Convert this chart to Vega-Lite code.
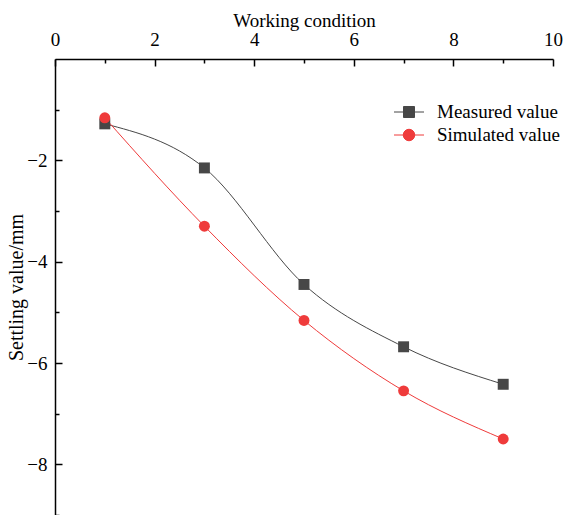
{
  "$schema": "https://vega.github.io/schema/vega-lite/v6.json",
  "width": 498,
  "height": 456,
  "autosize": {"type": "none"},
  "padding": {"left": 55, "top": 59, "right": 18, "bottom": 0},
  "background": "white",
  "config": {
    "view": {"stroke": null},
    "font": "Liberation Serif",
    "axis": {
      "labelFont": "Liberation Serif",
      "titleFont": "Liberation Serif",
      "labelFontSize": 19,
      "titleFontSize": 19,
      "titleFontWeight": "normal",
      "labelColor": "black",
      "titleColor": "black",
      "domainColor": "black",
      "tickColor": "black",
      "domainWidth": 1.5,
      "tickWidth": 1.5,
      "grid": false
    },
    "legend": {"labelFont": "Liberation Serif", "labelFontSize": 19, "labelColor": "black"}
  },
  "data": {
    "values": [
      {"condition": 1, "value": -1.28, "series": "Measured value"},
      {"condition": 3, "value": -2.15, "series": "Measured value"},
      {"condition": 5, "value": -4.45, "series": "Measured value"},
      {"condition": 7, "value": -5.68, "series": "Measured value"},
      {"condition": 9, "value": -6.42, "series": "Measured value"},
      {"condition": 1, "value": -1.16, "series": "Simulated value"},
      {"condition": 3, "value": -3.3, "series": "Simulated value"},
      {"condition": 5, "value": -5.16, "series": "Simulated value"},
      {"condition": 7, "value": -6.55, "series": "Simulated value"},
      {"condition": 9, "value": -7.5, "series": "Simulated value"}
    ]
  },
  "layer": [
    {
      "encoding": {
        "x": {
          "field": "condition",
          "type": "quantitative",
          "scale": {"domain": [0, 10], "nice": false, "zero": false},
          "axis": {
            "orient": "top",
            "title": "Working condition",
            "values": [0, 2, 4, 6, 8, 10],
            "tickSize": 0,
            "labelPadding": 10,
            "titlePadding": 0,
            "labelFlush": false,
            "labelOverlap": false
          }
        },
        "y": {
          "field": "value",
          "type": "quantitative",
          "scale": {"domain": [-9, 0], "nice": false, "zero": false},
          "axis": {
            "orient": "left",
            "title": "Settling value/mm",
            "titleFontSize": 20,
            "values": [-8, -6, -4, -2],
            "tickSize": 0,
            "labelPadding": 8,
            "titlePadding": 0,
            "labelFlush": false,
            "labelOverlap": false
          }
        },
        "color": {
          "field": "series",
          "type": "nominal",
          "scale": {"domain": ["Measured value", "Simulated value"], "range": ["#474747", "#ef3b3b"]},
          "legend": {
            "title": null,
            "orient": "none",
            "legendX": 341,
            "legendY": 40,
            "padding": 0,
            "symbolSize": 625,
            "rowPadding": 0,
            "labelOffset": 15,
            "symbolStrokeWidth": 1
          }
        }
      },
      "layer": [
        {
          "mark": {"type": "line", "interpolate": "monotone", "strokeWidth": 1}
        },
        {
          "transform": [{"filter": "datum.series === 'Measured value'"}],
          "mark": {"type": "square", "opacity": 1, "size": 120}
        },
        {
          "transform": [{"filter": "datum.series === 'Simulated value'"}],
          "mark": {"type": "circle", "opacity": 1, "size": 120}
        }
      ]
    },
    {
      "mark": {"type": "point", "filled": true, "opacity": 0, "strokeWidth": 1},
      "encoding": {
        "x": {
          "field": "condition",
          "type": "quantitative",
          "axis": {
            "orient": "bottom",
            "offset": -456,
            "title": null,
            "labels": false,
            "domain": false,
            "values": [0, 1, 2, 3, 4, 5, 6, 7, 8, 9, 10],
            "tickSize": {"condition": {"test": "datum.value % 2 === 0", "value": 7}, "value": 4}
          }
        },
        "y": {
          "field": "value",
          "type": "quantitative",
          "axis": {
            "orient": "right",
            "offset": -498,
            "title": null,
            "labels": false,
            "domain": false,
            "values": [-9, -8, -7, -6, -5, -4, -3, -2, -1],
            "tickSize": {"condition": {"test": "datum.value % 2 === 0", "value": 7}, "value": 4}
          }
        },
        "color": {
          "field": "series",
          "type": "nominal"
        },
        "shape": {
          "field": "series",
          "type": "nominal",
          "scale": {"domain": ["Measured value", "Simulated value"], "range": ["M-1.2,0H1.2M-0.44,-0.44H0.44V0.44H-0.44Z", "M-1.2,0H1.2M0.46,0A0.46,0.46 0 1,1 -0.46,0A0.46,0.46 0 1,1 0.46,0Z"]}
        },
        "stroke": {
          "field": "series",
          "type": "nominal",
          "scale": {"domain": ["Measured value", "Simulated value"], "range": ["#474747", "#ef3b3b"]}
        }
      }
    }
  ],
  "resolve": {"axis": {"x": "independent", "y": "independent"}}
}
